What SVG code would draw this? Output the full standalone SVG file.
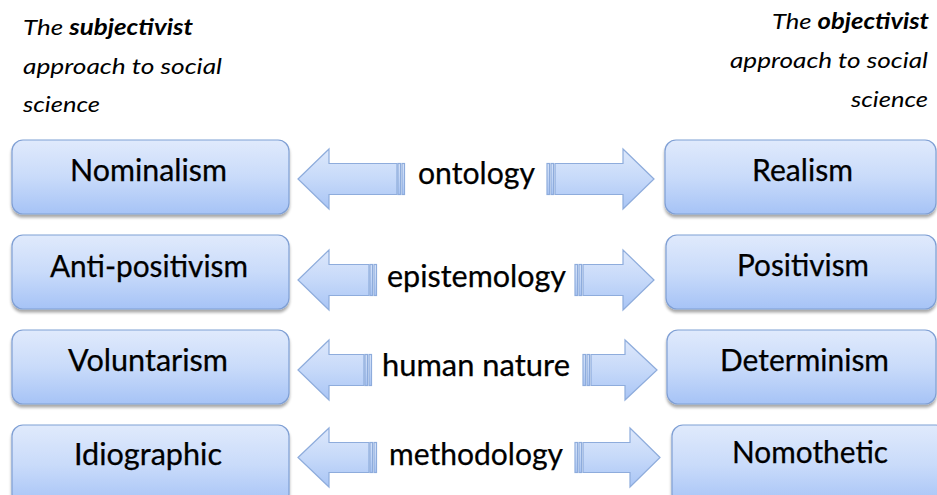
<svg xmlns="http://www.w3.org/2000/svg" width="937" height="495" viewBox="0 0 937 495">
  <defs>
    <linearGradient id="boxFill" x1="0" y1="0" x2="0" y2="1">
      <stop offset="0" stop-color="#e0eafc"/>
      <stop offset="0.5" stop-color="#c9dbfa"/>
      <stop offset="1" stop-color="#a6c3f6"/>
    </linearGradient>
    <linearGradient id="arrowFill" x1="0" y1="0" x2="0" y2="1">
      <stop offset="0" stop-color="#dde8fb"/>
      <stop offset="0.5" stop-color="#c6d9f9"/>
      <stop offset="1" stop-color="#a9c5f5"/>
    </linearGradient>
    <filter id="shadow" x="-5%" y="-10%" width="110%" height="130%">
      <feGaussianBlur in="SourceAlpha" stdDeviation="1.6"/>
      <feOffset dx="0" dy="2.5" result="b"/>
      <feComponentTransfer><feFuncA type="linear" slope="0.35"/></feComponentTransfer>
      <feMerge><feMergeNode/><feMergeNode in="SourceGraphic"/></feMerge>
    </filter>
  </defs>
  <style>
    .box { fill: url(#boxFill); stroke: #7f9fd4; stroke-width: 1.2; filter: url(#shadow); }
    .arrow { fill: url(#arrowFill); stroke: #8eacdc; stroke-width: 1.2; }
    .lbl { font-family: Lato, "Open Sans", sans-serif; font-size: 30px; fill: #000; text-anchor: middle; stroke: #000; stroke-width: 0.25; }
    .head { font-family: Lato, "Open Sans", sans-serif; font-size: 22px; font-style: italic; fill: #000; white-space: pre; }
  </style>

  <!-- column headings -->
  <g id="heading-left" class="head">
    <text x="23" y="35" textLength="170" lengthAdjust="spacingAndGlyphs">The <tspan font-weight="bold">subjectivist</tspan></text>
    <text x="23" y="74" textLength="199" lengthAdjust="spacingAndGlyphs">approach  to social</text>
    <text x="23" y="112" textLength="77" lengthAdjust="spacingAndGlyphs">science</text>
  </g>
  <g id="heading-right" class="head">
    <text x="772" y="29" textLength="157" lengthAdjust="spacingAndGlyphs">The <tspan font-weight="bold">objectivist</tspan></text>
    <text x="730" y="68" textLength="198" lengthAdjust="spacingAndGlyphs">approach  to social</text>
    <text x="851" y="107" textLength="77" lengthAdjust="spacingAndGlyphs">science</text>
  </g>

  <!-- subjectivist positions -->
  <g id="nominalism">
    <rect class="box" x="12" y="140" width="277" height="74" rx="11"/>
    <text class="lbl" x="148.5" y="181" textLength="157" lengthAdjust="spacingAndGlyphs">Nominalism</text>
  </g>
  <g id="anti-positivism">
    <rect class="box" x="12" y="235" width="277" height="74" rx="11"/>
    <text class="lbl" x="149" y="277" textLength="198" lengthAdjust="spacingAndGlyphs">Anti-positivism</text>
  </g>
  <g id="voluntarism">
    <rect class="box" x="12" y="330" width="277" height="74" rx="11"/>
    <text class="lbl" x="148" y="371" textLength="160" lengthAdjust="spacingAndGlyphs">Voluntarism</text>
  </g>
  <g id="idiographic">
    <rect class="box" x="12" y="425" width="277" height="80" rx="11"/>
    <text class="lbl" x="148" y="465" textLength="148" lengthAdjust="spacingAndGlyphs">Idiographic</text>
  </g>

  <!-- objectivist positions -->
  <g id="realism">
    <rect class="box" x="665" y="140" width="271" height="74" rx="11"/>
    <text class="lbl" x="802.5" y="181" textLength="101" lengthAdjust="spacingAndGlyphs">Realism</text>
  </g>
  <g id="positivism">
    <rect class="box" x="666" y="235" width="270" height="74" rx="11"/>
    <text class="lbl" x="803" y="276" textLength="132" lengthAdjust="spacingAndGlyphs">Positivism</text>
  </g>
  <g id="determinism">
    <rect class="box" x="667" y="330" width="269" height="74" rx="11"/>
    <text class="lbl" x="804.5" y="371" textLength="169" lengthAdjust="spacingAndGlyphs">Determinism</text>
  </g>
  <g id="nomothetic">
    <rect class="box" x="672" y="425" width="275" height="80" rx="11"/>
    <text class="lbl" x="810" y="463" textLength="156" lengthAdjust="spacingAndGlyphs">Nomothetic</text>
  </g>

  <!-- striped double arrows with their dimension labels -->
  <g id="connectors">
    <!-- ontology -->
    <path class="arrow" d="M298,179 L329,149 L329,163.5 L397,163.5 L397,194.5 L329,194.5 L329,209 Z"/>
    <rect class="arrow" x="398" y="163.5" width="2.5" height="31"/>
    <rect class="arrow" x="402" y="163.5" width="2.5" height="31"/>
    <path class="arrow" d="M654,179 L623,149 L623,163.5 L555,163.5 L555,194.5 L623,194.5 L623,209 Z"/>
    <rect class="arrow" x="547" y="163.5" width="2.5" height="31"/>
    <rect class="arrow" x="551" y="163.5" width="2.5" height="31"/>
    <text class="lbl" x="476.5" y="184" textLength="117" lengthAdjust="spacingAndGlyphs">ontology</text>

    <!-- epistemology -->
    <path class="arrow" d="M298,280 L329,250 L329,264.5 L369,264.5 L369,295.5 L329,295.5 L329,310 Z"/>
    <rect class="arrow" x="370" y="264.5" width="2.5" height="31"/>
    <rect class="arrow" x="374" y="264.5" width="2.5" height="31"/>
    <path class="arrow" d="M654,280 L623,250 L623,264.5 L583,264.5 L583,295.5 L623,295.5 L623,310 Z"/>
    <rect class="arrow" x="575" y="264.5" width="2.5" height="31"/>
    <rect class="arrow" x="579" y="264.5" width="2.5" height="31"/>
    <text class="lbl" x="476.5" y="287" textLength="179" lengthAdjust="spacingAndGlyphs">epistemology</text>

    <!-- human nature -->
    <path class="arrow" d="M298,370 L329,340 L329,354.5 L364,354.5 L364,385.5 L329,385.5 L329,400 Z"/>
    <rect class="arrow" x="365" y="354.5" width="2.5" height="31"/>
    <rect class="arrow" x="369" y="354.5" width="2.5" height="31"/>
    <path class="arrow" d="M657,370 L625,340 L625,354.5 L591,354.5 L591,385.5 L625,385.5 L625,400 Z"/>
    <rect class="arrow" x="583" y="354.5" width="2.5" height="31"/>
    <rect class="arrow" x="587" y="354.5" width="2.5" height="31"/>
    <text class="lbl" x="476" y="376" textLength="188" lengthAdjust="spacingAndGlyphs">human nature</text>

    <!-- methodology -->
    <path class="arrow" d="M298,457.5 L329,428 L329,442.5 L369,442.5 L369,472.5 L329,472.5 L329,487 Z"/>
    <rect class="arrow" x="370" y="442.5" width="2.5" height="30"/>
    <rect class="arrow" x="374" y="442.5" width="2.5" height="30"/>
    <path class="arrow" d="M660,457.5 L630,428 L630,442.5 L583,442.5 L583,472.5 L630,472.5 L630,487 Z"/>
    <rect class="arrow" x="575" y="442.5" width="2.5" height="30"/>
    <rect class="arrow" x="579" y="442.5" width="2.5" height="30"/>
    <text class="lbl" x="476" y="465" textLength="174" lengthAdjust="spacingAndGlyphs">methodology</text>
  </g>
</svg>
